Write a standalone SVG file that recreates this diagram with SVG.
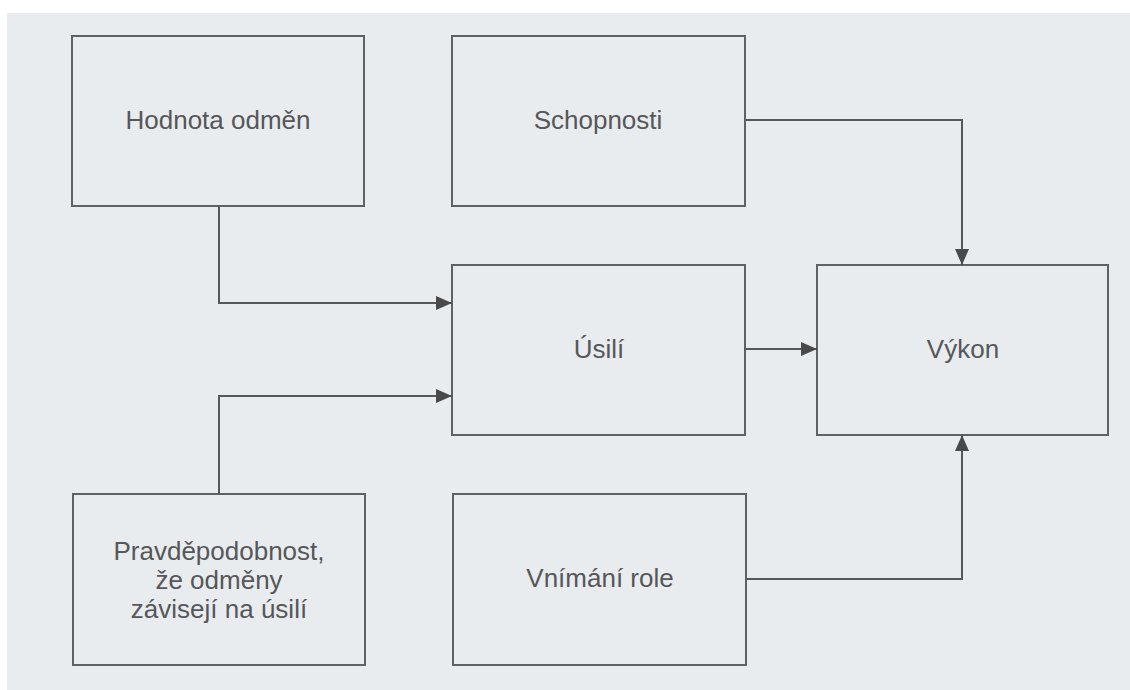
<svg xmlns="http://www.w3.org/2000/svg" width="1130" height="690" viewBox="0 0 1130 690">
<style>
.box{fill:#e9ecef;stroke:#5f6163;stroke-width:2}
.lbl{font-family:"Liberation Sans",Arial,sans-serif;font-size:26px;fill:#555759;text-anchor:middle}
.con{fill:none;stroke:#555759;stroke-width:2}
</style>
<defs>
<marker id="ah" markerWidth="16" markerHeight="14" refX="16" refY="7" orient="auto" markerUnits="userSpaceOnUse">
<path d="M0,0 L16,7 L0,14 Z" fill="#48494b"/>
</marker>
</defs>
<rect x="0" y="0" width="1130" height="690" fill="#ffffff"/>
<rect x="7" y="13" width="1123" height="677" fill="#e9ecef"/>
<g id="n-hodnota"><rect class="box" x="72" y="36" width="292" height="170"/><text class="lbl" x="218" y="129">Hodnota odměn</text></g>
<g id="n-schopnosti"><rect class="box" x="452" y="36" width="293" height="170"/><text class="lbl" x="598" y="129">Schopnosti</text></g>
<g id="n-usili"><rect class="box" x="452" y="265" width="293" height="170"/><text class="lbl" x="599" y="358">Úsilí</text></g>
<g id="n-vykon"><rect class="box" x="817" y="265" width="291" height="170"/><text class="lbl" x="963" y="358">Výkon</text></g>
<g id="n-pravd"><rect class="box" x="73" y="494" width="292" height="171"/><text class="lbl" x="219" y="560">Pravděpodobnost,</text><text class="lbl" x="219" y="589">že odměny</text><text class="lbl" x="219" y="618">závisejí na úsilí</text></g>
<g id="n-role"><rect class="box" x="453" y="494" width="293" height="171"/><text class="lbl" x="600" y="587">Vnímání role</text></g>
<g id="connectors">
<path class="con" d="M219,206 V303 H452" marker-end="url(#ah)"/>
<path class="con" d="M219,494 V396 H452" marker-end="url(#ah)"/>
<path class="con" d="M745,349 H817" marker-end="url(#ah)"/>
<path class="con" d="M745,120 H962 V265" marker-end="url(#ah)"/>
<path class="con" d="M746,579 H962 V435" marker-end="url(#ah)"/>
</g>
</svg>
